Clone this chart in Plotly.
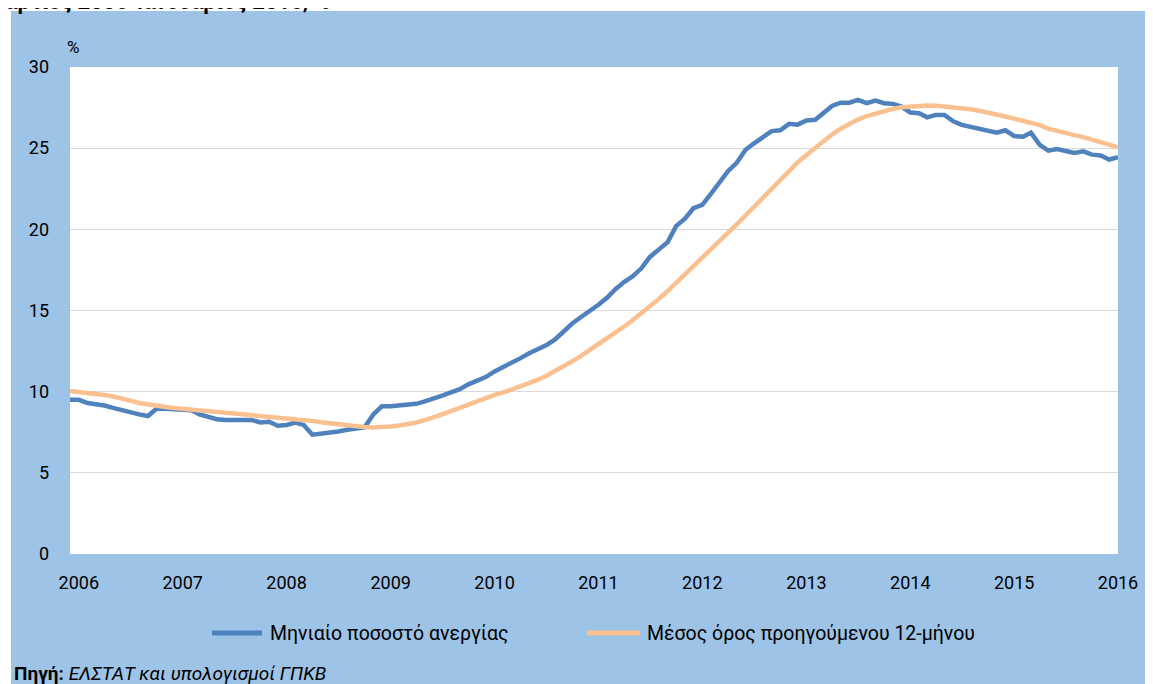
import plotly.graph_objects as go
import pandas as pd

# Monthly dates: Dec 2005 .. Jan 2016
dates = pd.date_range("2005-12-01", "2016-01-01", freq="MS")

monthly_rate = [
    9.5, 9.5, 9.3, 9.25, 9.15, 9.0, 8.85, 8.7, 8.6, 8.5,
    8.95, 8.95, 8.9, 8.9, 8.85, 8.6, 8.45, 8.3, 8.25, 8.25,
    8.25, 8.25, 8.1, 8.15, 7.9, 7.95, 8.1, 7.95, 7.35, 7.4,
    7.5, 7.55, 7.65, 7.7, 7.8, 8.6, 9.1, 9.1, 9.15, 9.2,
    9.25, 9.4, 9.55, 9.75, 9.95, 10.15, 10.45, 10.65, 10.9, 11.25,
    11.5, 11.8, 12.05, 12.35, 12.6, 12.85, 13.2, 13.7, 14.2, 14.6,
    14.95, 15.35, 15.8, 16.3, 16.75, 17.1, 17.6, 18.3, 18.75, 19.2,
    20.2, 20.65, 21.3, 21.5, 22.2, 22.9, 23.6, 24.1, 24.9, 25.3,
    25.65, 26.05, 26.1, 26.5, 26.45, 26.7, 26.75, 27.15, 27.6, 27.8,
    27.8, 27.97, 27.77, 27.93, 27.77, 27.73, 27.56, 27.2, 27.15, 26.9,
    27.05, 27.05, 26.65, 26.43, 26.3, 26.2, 26.1, 25.95, 26.1, 25.75,
    25.7, 25.95, 25.2, 24.85, 24.95, 24.85, 24.7, 24.8, 24.6, 24.55,
    24.3, 24.45,
]

avg_12m = [
    10.05, 10.0, 9.95, 9.9, 9.8, 9.7, 9.6, 9.45, 9.3, 9.2,
    9.1, 9.05, 9.0, 8.95, 8.9, 8.85, 8.8, 8.75, 8.7, 8.65,
    8.62, 8.6, 8.55, 8.5, 8.45, 8.4, 8.3, 8.25, 8.2, 8.12,
    8.05, 8.0, 7.92, 7.87, 7.83, 7.8, 7.8, 7.85, 7.92, 8.0,
    8.1, 8.25, 8.4, 8.6, 8.8, 9.0, 9.25, 9.45, 9.65, 9.8,
    9.95, 10.12, 10.3, 10.5, 10.72, 10.97, 11.25, 11.55, 11.87, 12.2,
    12.55, 12.9, 13.25, 13.62, 14.0, 14.4, 14.82, 15.25, 15.7, 16.2,
    16.7, 17.2, 17.7, 18.2, 18.72, 19.23, 19.75, 20.3, 20.85, 21.4,
    21.98, 22.55, 23.1, 23.62, 24.12, 24.58, 25.02, 25.44, 25.84, 26.2,
    26.5, 26.76, 26.98, 27.15, 27.3, 27.42, 27.52, 27.58, 27.62, 27.63,
    27.62, 27.58, 27.52, 27.45, 27.4, 27.3, 27.2, 27.05, 26.95, 26.82,
    26.7, 26.55, 26.42, 26.2, 26.05, 25.92, 25.8, 25.68, 25.55, 25.4,
    25.22, 25.05,
]

year_labels = [str(y) for y in range(2006, 2017)]
year_ticks = [f"{y}-01-01" for y in range(2006, 2017)]

name_monthly = "Μηνιαίο ποσοστό ανεργίας"
name_avg = "Μέσος όρος προηγούμενου 12-μήνου"
color_monthly = "#4F81BD"
color_avg = "#FAC090"

BG = "#9DC3E6"
FONT = "Roboto"

fig = go.Figure()
fig.add_trace(go.Scatter(x=dates, y=monthly_rate, mode="lines", name=name_monthly,
                         line=dict(color=color_monthly, width=4.5), showlegend=False))
fig.add_trace(go.Scatter(x=dates, y=avg_12m, mode="lines", name=name_avg,
                         line=dict(color=color_avg, width=4.5), showlegend=False))

# the page body adds an 8px offset; positions below are given in screen pixels
OFF = 8
W, H = 1153, 684
PL, PR, PT, PB = 70, 1118, 67, 554          # plot area on screen
L, T = PL - OFF, PT - OFF
R = W - (PR - OFF)
B = H - (PB - OFF)
pw, ph = PR - PL, PB - PT

def sx(px):
    return (px - PL) / pw

def sy(py):
    return (PB - py) / ph

# white strips at top and left (outside the blue chart frame)
fig.add_shape(type="rect", xref="paper", yref="paper", layer="below",
              x0=sx(-20), x1=sx(W + 20), y0=sy(11), y1=sy(-20),
              fillcolor="white", line_width=0)
fig.add_shape(type="rect", xref="paper", yref="paper", layer="below",
              x0=sx(-20), x1=sx(11), y0=sy(H + 20), y1=sy(-20),
              fillcolor="white", line_width=0)

# title (partly cut at the top edge, as in the reference)
fig.add_annotation(xref="paper", yref="paper", x=sx(3), y=sy(16),
                   text="<b>άρτιος 2006-Ιανουάριος 2016, %</b>", showarrow=False,
                   xanchor="left", yanchor="bottom",
                   font=dict(family=FONT, size=22, color="black"))

fig.add_annotation(xref="paper", yref="paper", x=sx(73), y=sy(47),
                   text="%", showarrow=False, xanchor="center", yanchor="middle",
                   font=dict(family=FONT, size=17, color="black"))

fig.add_annotation(xref="paper", yref="paper", x=sx(12), y=sy(673),
                   text="<b>Πηγή:</b> <i>ΕΛΣΤΑΤ και υπολογισμοί ΓΠΚΒ</i>", showarrow=False,
                   xanchor="left", yanchor="middle",
                   font=dict(family=FONT, size=19, color="black"))

# legend (drawn as sample lines + labels)
legend_y = sy(633)
for x0, x1, tx, name, col in [(212, 262, 268, name_monthly, color_monthly),
                              (587, 640, 645, name_avg, color_avg)]:
    fig.add_shape(type="line", xref="paper", yref="paper",
                  x0=sx(x0), x1=sx(x1), y0=legend_y, y1=legend_y,
                  line=dict(color=col, width=5))
    fig.add_annotation(xref="paper", yref="paper", x=sx(tx), y=legend_y,
                       text=name, showarrow=False, xanchor="left", yanchor="middle",
                       font=dict(family=FONT, size=19.5, color="black"))

fig.update_layout(
    width=W, height=H,
    margin=dict(l=L, r=R, t=T, b=B, pad=0, autoexpand=False),
    paper_bgcolor=BG,
    plot_bgcolor="white",
    font=dict(family=FONT, size=18, color="black"),
    showlegend=False,
    xaxis=dict(type="date", range=["2005-12-01", "2016-01-01"], tickvals=year_ticks,
               ticktext=year_labels, showgrid=False, zeroline=False, showline=False,
               ticks="", tickangle=0, ticklabelstandoff=16,
               tickfont=dict(family=FONT, size=18, color="black")),
    yaxis=dict(range=[0, 30], dtick=5, tick0=0, showgrid=True, gridcolor="#D9D9D9", gridwidth=1.3,
               zeroline=False, showline=False, ticks="", ticklabelstandoff=20,
               tickfont=dict(family=FONT, size=18, color="black")),
)

fig.write_html("out.html")
